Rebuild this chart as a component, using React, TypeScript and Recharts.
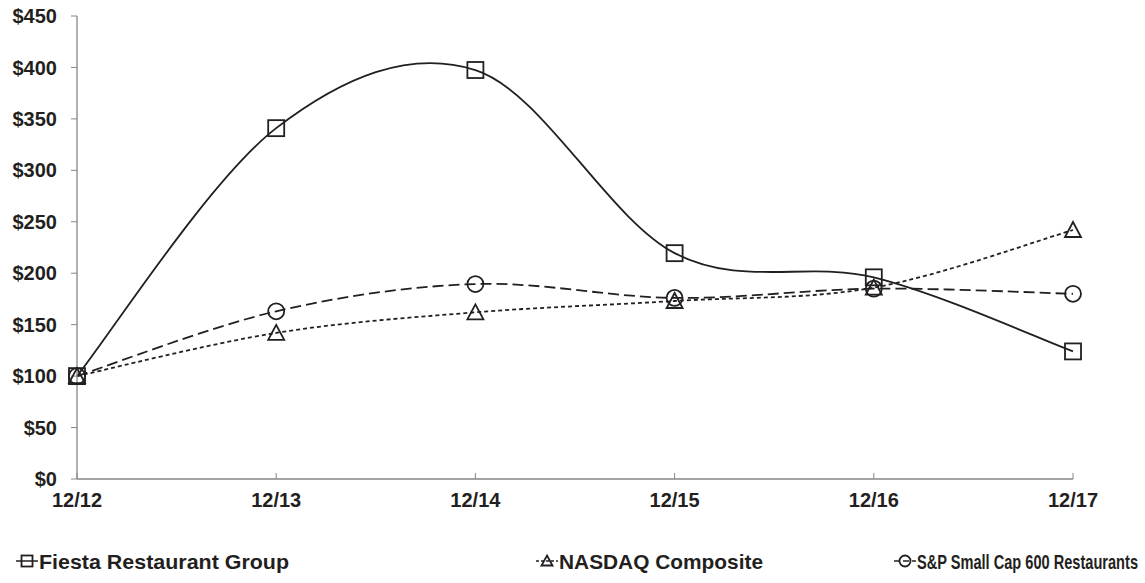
import React from "react";
import { CartesianGrid, Legend, Line, LineChart, XAxis, YAxis } from "recharts";

const periods = ["12/12", "12/13", "12/14", "12/15", "12/16", "12/17"];
const fiesta = [100, 341, 397.5, 219.5, 196, 124];
const nasdaq = [100, 142, 162, 173, 186, 242];
const spRestaurants = [100, 163, 189.5, 176, 185, 180];
const yTicks = [0, 50, 100, 150, 200, 250, 300, 350, 400, 450];

const chartData = periods.map((p, i) => ({
  period: p,
  fiesta: fiesta[i],
  nasdaq: nasdaq[i],
  sp: spRestaurants[i],
}));

const INK = "#231f20";
const AXIS = "#868686";
const FONT = "'Liberation Sans', Arial, sans-serif";

// Excel-style smoothed line (Catmull-Rom through the points)
function excelSmooth(context: any) {
  let pts: [number, number][] = [];
  return {
    areaStart() {},
    areaEnd() {},
    lineStart() {
      pts = [];
    },
    lineEnd() {
      const n = pts.length;
      if (!n) return;
      context.moveTo(pts[0][0], pts[0][1]);
      for (let i = 0; i < n - 1; i++) {
        const p0 = pts[Math.max(i - 1, 0)];
        const p1 = pts[i];
        const p2 = pts[i + 1];
        const p3 = pts[Math.min(i + 2, n - 1)];
        context.bezierCurveTo(
          p1[0] + (p2[0] - p0[0]) / 6,
          p1[1] + (p2[1] - p0[1]) / 6,
          p2[0] - (p3[0] - p1[0]) / 6,
          p2[1] - (p3[1] - p1[1]) / 6,
          p2[0],
          p2[1]
        );
      }
    },
    point(x: number, y: number) {
      pts.push([x, y]);
    },
  };
}

const SquareMark = ({ cx, cy, size = 16 }: any) => (
  <rect x={cx - size / 2} y={cy - size / 2} width={size} height={size} fill="none" stroke={INK} strokeWidth={1.8} />
);
const TriangleMark = ({ cx, cy, size = 16 }: any) => (
  <polygon
    points={`${cx},${cy - size / 2} ${cx + size / 2},${cy + size / 2 - 1} ${cx - size / 2},${cy + size / 2 - 1}`}
    fill="none"
    stroke={INK}
    strokeWidth={1.8}
  />
);
const CircleMark = ({ cx, cy, size = 16 }: any) => (
  <circle cx={cx} cy={cy} r={size / 2} fill="none" stroke={INK} strokeWidth={1.8} />
);

const XTick = ({ x, y, payload }: any) => (
  <g>
    <line x1={x} x2={x} y1={y} y2={y - 6} stroke={AXIS} strokeWidth={1} />
    <text x={x} y={y + 28} textAnchor="middle" fill={INK} fontSize={20} fontWeight="bold" fontFamily={FONT}>
      {payload.value}
    </text>
  </g>
);

const legendItems = [
  { label: "Fiesta Restaurant Group", left: 16, dash: undefined, Mark: SquareMark, textWidth: 250 },
  { label: "NASDAQ Composite", left: 536, dash: "3 2", Mark: TriangleMark, textWidth: 204 },
  { label: "S&P Small Cap 600 Restaurants", left: 894, dash: "6 3", Mark: CircleMark, textWidth: 221 },
];

const LegendContent = () => (
  <div style={{ position: "relative", height: 63, width: 1145 }}>
    {legendItems.map(({ label, left, dash, Mark, textWidth }) => (
      <svg
        key={label}
        width={textWidth + 28}
        height={26}
        style={{ position: "absolute", left, top: 28, overflow: "visible" }}
      >
        <line x1={0} x2={22} y1={13} y2={13} stroke={INK} strokeWidth={1.5} strokeDasharray={dash} />
        <Mark cx={11} cy={13} size={11} />
        <text
          x={23}
          y={20.5}
          fill={INK}
          fontFamily={FONT}
          fontWeight="bold"
          fontSize={21}
          textLength={textWidth}
          lengthAdjust="spacingAndGlyphs"
        >
          {label}
        </text>
      </svg>
    ))}
  </div>
);

export default function App() {
  return (
    <div style={{ position: "absolute", left: 0, top: 0, width: 1145, height: 583, background: "#fff" }}>
      <LineChart width={1145} height={583} data={chartData} margin={{ top: 16, right: 72, left: 0, bottom: 0 }}>
        <CartesianGrid stroke="none" />
        <XAxis
          dataKey="period"
          scale="point"
          padding={{ left: 0, right: 0 }}
          height={41}
          axisLine={{ stroke: AXIS, strokeWidth: 1.3 }}
          tickLine={false}
          tickSize={0}
          tickMargin={0}
          tick={<XTick />}
          interval={0}
        />
        <YAxis
          domain={[0, 450]}
          ticks={yTicks}
          width={77}
          axisLine={{ stroke: AXIS, strokeWidth: 1.3 }}
          tickLine={{ stroke: AXIS }}
          tickSize={6}
          tickMargin={14}
          tickFormatter={(v: number) => `$${v}`}
          tick={{ fill: INK, fontSize: 20, fontWeight: "bold", fontFamily: FONT }}
        />
        <Legend verticalAlign="bottom" height={63} wrapperStyle={{ left: 0, width: 1145, bottom: 0 }} content={<LegendContent />} />
        <Line
          dataKey="fiesta"
          type={excelSmooth as any}
          stroke={INK}
          strokeWidth={1.8}
          isAnimationActive={false}
          dot={(p: any) => <SquareMark key={`f-${p.index}`} cx={p.cx} cy={p.cy} />}
          activeDot={false}
        />
        <Line
          dataKey="nasdaq"
          type={excelSmooth as any}
          stroke={INK}
          strokeWidth={1.8}
          strokeDasharray="4 3"
          isAnimationActive={false}
          dot={(p: any) => <TriangleMark key={`n-${p.index}`} cx={p.cx} cy={p.cy} />}
          activeDot={false}
        />
        <Line
          dataKey="sp"
          type={excelSmooth as any}
          stroke={INK}
          strokeWidth={1.8}
          strokeDasharray="11 5"
          isAnimationActive={false}
          dot={(p: any) => <CircleMark key={`s-${p.index}`} cx={p.cx} cy={p.cy} />}
          activeDot={false}
        />
      </LineChart>
    </div>
  );
}
